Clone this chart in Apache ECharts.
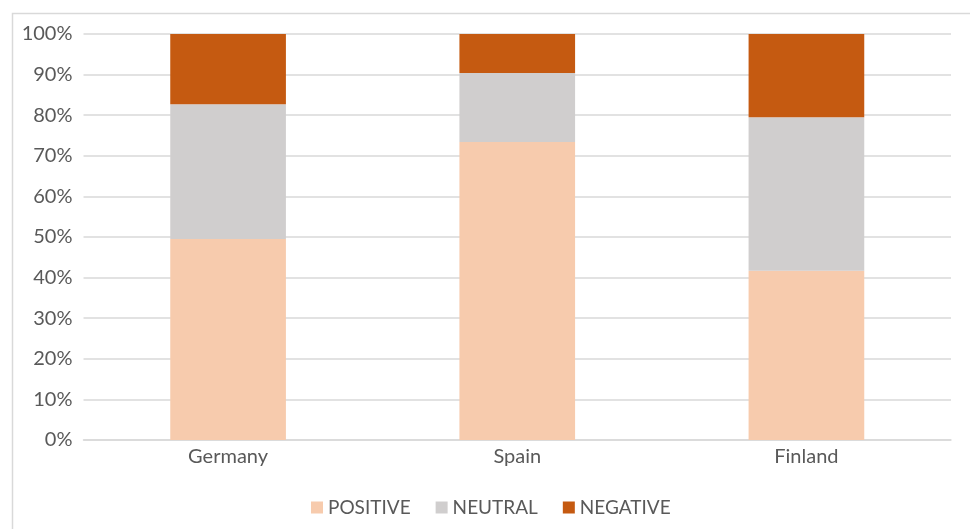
<!DOCTYPE html>
<html>
<head>
<meta charset="utf-8">
<script src="https://cdn.jsdelivr.net/npm/echarts@6/dist/echarts.min.js"></script>
<style>
html,body{margin:0;padding:0;background:#fff;}
#c{width:970px;height:529px;}
</style>
</head>
<body>
<div id="c"></div>
<script>
const categories = ['Germany', 'Spain', 'Finland'];
const positive = [49.5, 73.4, 41.7];
const neutral = [33.2, 17.0, 37.8];
const negative = [17.3, 9.6, 20.5];
const seriesNames = ['POSITIVE', 'NEUTRAL', 'NEGATIVE'];

const FONT = 'Lato';
const TXT = '#595959';
const chart = echarts.init(document.getElementById('c'), null, {renderer: 'canvas'});
function bar(name, data, color) {
  return {
    name: name, type: 'bar', stack: 'total', data: data,
    barWidth: '40%',
    itemStyle: {color: color},
    emphasis: {disabled: true}
  };
}
chart.setOption({
  animation: false,
  graphic: [{
    type: 'rect', left: 10, top: 11,
    shape: {width: 980, height: 540},
    style: {fill: 'none', stroke: '#d9d9d9', lineWidth: 1.5},
    silent: true
  }],
  grid: {left: 83.5, right: 19, top: 34, bottom: 89, containLabel: false},
  legend: {
    bottom: 7, left: 306,
    itemWidth: 12, itemHeight: 12, itemGap: 25,
    icon: 'rect',
    textStyle: {fontFamily: FONT, fontSize: 19, color: TXT},
    data: seriesNames
  },
  xAxis: {
    type: 'category', data: categories,
    axisLine: {lineStyle: {color: '#d9d9d9', width: 1.5}},
    axisTick: {show: false},
    axisLabel: {fontFamily: FONT, fontSize: 20, color: TXT, margin: 7}
  },
  yAxis: {
    type: 'value', min: 0, max: 100, interval: 10,
    axisLine: {show: false}, axisTick: {show: false},
    splitLine: {lineStyle: {color: '#d9d9d9', width: 1.5}},
    axisLabel: {fontFamily: FONT, fontSize: 20, color: TXT, margin: 11, formatter: '{value}%'}
  },
  series: [
    bar(seriesNames[0], positive, '#f7cbad'),
    bar(seriesNames[1], neutral, '#d0cece'),
    bar(seriesNames[2], negative, '#c55a11')
  ]
});
</script>
</body>
</html>
